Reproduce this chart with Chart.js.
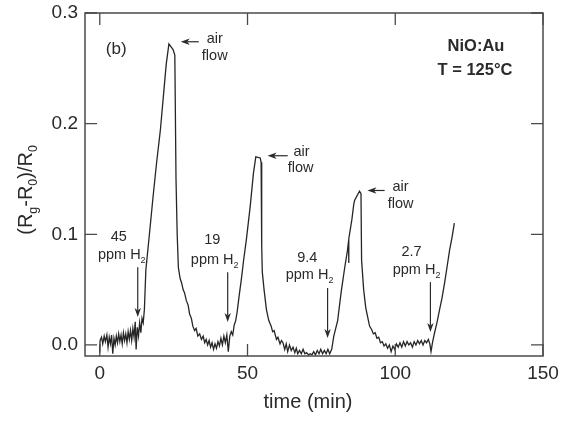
<!DOCTYPE html>
<html>
<head>
<meta charset="utf-8">
<script src="https://cdn.jsdelivr.net/npm/chart.js@4.4.0/dist/chart.umd.min.js"></script>
<style>
html,body{margin:0;padding:0;background:#fff;}
canvas{display:block;}
</style>
</head>
<body>
<canvas id="c" width="561" height="421" style="width:561px;height:421px"></canvas>
<script>
// ---- data ----
const time = [0,0.1,0.6,1.0,1.5,1.9,2.4,2.8,3.2,3.6,4.0,4.4,4.8,5.2,5.6,6.0,6.4,6.8,7.2,7.6,8.0,8.4,8.8,9.2,9.6,10.0,10.4,10.8,11.2,11.6,12.0,12.3,12.7,13.1,13.5,13.9,14.3,14.7,15.1,15.6,16.8,18.0,19.2,20.5,21.5,22.5,23.4,24.8,25.4,25.8,26.2,26.6,27.2,27.7,28.2,28.7,29.3,29.9,30.4,31.0,31.5,32.1,32.6,33.2,33.8,34.4,35.0,35.5,36.0,36.5,37.0,37.5,38.0,38.5,39.0,39.5,40.0,40.5,41.0,41.5,42.0,42.5,43.0,43.5,44.0,44.5,45.0,45.5,46.0,46.5,47.2,47.9,48.7,49.6,50.9,52.0,52.8,54.3,54.6,54.8,55.0,55.6,56.4,57.2,58.0,58.5,59.0,59.8,60.3,61.0,61.5,62.0,62.6,63.1,63.6,64.2,64.8,65.4,66.0,66.5,67.0,67.6,68.2,68.8,69.4,70.0,70.6,71.2,71.8,72.4,73.0,73.6,74.2,74.8,75.4,76.0,76.6,77.2,77.8,78.5,79.2,80.5,81.7,82.9,83.8,84.2,84.25,84.3,85.3,86.0,86.3,87.9,88.4,88.6,89.3,90.0,90.6,91.3,92.0,92.6,93.2,93.8,94.4,95.0,95.6,96.2,96.8,97.4,98.0,98.6,99.2,99.8,100.4,101.0,101.6,102.2,102.8,103.4,104.0,104.6,105.2,105.8,106.4,107.0,107.6,108.2,108.8,109.4,110.0,110.6,111.2,111.7,112.1,112.6,113.3,114.1,115.0,115.8,116.7,117.5,118.4,119.2,120.0];
const response = [-0.007,0.004,0.007,0.001,0.008,0.003,0.009,-0.002,0.007,0.001,0.009,-0.008,0.006,0.000,0.008,0.002,0.010,0.003,0.009,0.001,0.011,0.004,0.010,0.002,0.012,0.005,0.013,0.004,0.015,0.007,0.021,-0.004,0.016,0.008,0.020,0.011,0.024,0.020,0.032,0.068,0.100,0.133,0.164,0.194,0.224,0.254,0.272,0.267,0.262,0.150,0.100,0.070,0.060,0.056,0.050,0.047,0.040,0.036,0.028,0.024,0.017,0.013,0.015,0.008,0.010,0.005,0.008,0.002,0.005,0.000,0.004,-0.002,0.002,-0.004,0.001,-0.003,0.003,-0.001,0.006,0.000,0.008,0.002,0.009,-0.006,0.008,0.012,0.009,0.018,0.022,0.030,0.045,0.059,0.077,0.095,0.125,0.155,0.170,0.169,0.165,0.090,0.066,0.050,0.032,0.022,0.017,0.012,0.013,0.005,0.007,0.001,0.004,0.002,-0.004,0.001,-0.006,0.000,-0.005,-0.002,-0.007,-0.003,-0.008,-0.005,-0.008,-0.004,-0.008,-0.007,-0.009,-0.008,-0.009,-0.006,-0.009,-0.005,-0.008,-0.004,-0.008,-0.005,-0.008,-0.004,-0.008,-0.004,0.008,0.022,0.048,0.070,0.085,0.094,0.074,0.096,0.113,0.128,0.131,0.139,0.137,0.077,0.050,0.034,0.026,0.017,0.014,0.010,0.011,0.006,0.007,0.002,0.003,-0.001,0.001,-0.003,0.000,-0.006,-0.001,-0.004,0.001,-0.002,0.002,-0.002,0.003,-0.001,0.003,0.000,0.002,-0.002,0.003,0.000,0.004,0.001,0.004,0.000,0.004,0.002,0.005,0.001,-0.006,0.002,0.011,0.020,0.032,0.042,0.056,0.070,0.086,0.097,0.110];
const xTicks = [0, 50, 100, 150];
const yTicks = [0.0, 0.1, 0.2, 0.3];
const concLabels = ['45', '19', '9.4', '2.7'];
const xTitle = 'time (min)';
const panelLabel = '(b)';
const sampleLines = ['NiO:Au', 'T = 125°C'];

// ---- annotation anchors (data coordinates) ----
const airArrows = [
  {tail:[33.5,0.274], tip:[27.4,0.274], air:[38.9,0.2766], flow:[38.9,0.2613]},
  {tail:[63.6,0.171], tip:[56.8,0.171], air:[68.3,0.1748], flow:[68.0,0.1595]},
  {tail:[96.4,0.1396], tip:[90.6,0.1396], air:[101.8,0.1423], flow:[101.8,0.127]}
];
const concAnno = [
  {num:[6.43,0.0973], ppm:[7.44,0.0811], ax:12.85, ay0:0.0703, ay1:0.0252},
  {num:[38.05,0.0946], ppm:[38.9,0.0766], ax:43.29, ay0:0.0658, ay1:0.0207},
  {num:[70.2,0.0784], ppm:[71.0,0.0631], ax:77.1, ay0:0.0514, ay1:0.0063},
  {num:[105.5,0.0838], ppm:[107.2,0.0676], ax:111.9, ay0:0.0568, ay1:0.0117}
];

const FONT = "'Liberation Sans', Arial, Helvetica, sans-serif";
const TXT = '#2a2a2a';

function drawRich(ctx, parts, cx, cy, size, weight) {
  let w = 0;
  const subSize = size * 0.62;
  parts.forEach(p => {
    ctx.font = (weight||'normal') + ' ' + (p.sub ? subSize : size) + 'px ' + FONT;
    p.w = ctx.measureText(p.t).width;
    w += p.w;
  });
  let x = cx - w / 2;
  ctx.textAlign = 'left';
  ctx.textBaseline = 'middle';
  parts.forEach(p => {
    ctx.font = (weight||'normal') + ' ' + (p.sub ? subSize : size) + 'px ' + FONT;
    ctx.fillText(p.t, x, p.sub ? cy + size * 0.38 : cy);
    x += p.w;
  });
}

function arrow(ctx, x0, y0, x1, y1) {
  const ang = Math.atan2(y1 - y0, x1 - x0);
  const L = 9, W = 3.2, N = 6.5;
  ctx.beginPath();
  ctx.moveTo(x0, y0);
  ctx.lineTo(x1 - Math.cos(ang) * N, y1 - Math.sin(ang) * N);
  ctx.stroke();
  const bx = x1 - Math.cos(ang) * L, by = y1 - Math.sin(ang) * L;
  const nx = -Math.sin(ang), ny = Math.cos(ang);
  ctx.beginPath();
  ctx.moveTo(x1, y1);
  ctx.lineTo(bx + nx * W, by + ny * W);
  ctx.lineTo(x1 - Math.cos(ang) * N, y1 - Math.sin(ang) * N);
  ctx.lineTo(bx - nx * W, by - ny * W);
  ctx.closePath();
  ctx.fill();
}

const decor = {
  id: 'decor',
  afterDraw(chart) {
    const ctx = chart.ctx;
    const a = chart.chartArea;
    const xs = chart.scales.x, ys = chart.scales.y;
    const X = v => xs.getPixelForValue(v), Y = v => ys.getPixelForValue(v);
    ctx.save();
    ctx.strokeStyle = '#4a4a4a';
    ctx.lineWidth = 1.5;
    ctx.strokeRect(a.left, a.top, a.right - a.left, a.bottom - a.top);
    const TL = 12;
    ctx.lineWidth = 1.3;
    ctx.beginPath();
    xTicks.forEach(v => {
      const px = X(v);
      ctx.moveTo(px, a.bottom); ctx.lineTo(px, a.bottom - TL);
      ctx.moveTo(px, a.top); ctx.lineTo(px, a.top + TL);
    });
    yTicks.forEach(v => {
      const py = Y(v);
      ctx.moveTo(a.left, py); ctx.lineTo(a.left + TL, py);
      ctx.moveTo(a.right, py); ctx.lineTo(a.right - TL, py);
    });
    ctx.stroke();

    ctx.fillStyle = TXT;
    ctx.strokeStyle = TXT;
    drawRich(ctx, [{t: panelLabel}], X(5.58), Y(0.2676), 17);
    drawRich(ctx, [{t: sampleLines[0]}], 476, Y(0.27), 16.5, 'bold');
    drawRich(ctx, [{t: sampleLines[1]}], 475, Y(0.2477), 16.5, 'bold');
    ctx.lineWidth = 1.2;
    airArrows.forEach(o => {
      arrow(ctx, X(o.tail[0]), Y(o.tail[1]), X(o.tip[0]), Y(o.tip[1]));
      drawRich(ctx, [{t: 'air'}], X(o.air[0]), Y(o.air[1]), 14.5);
      drawRich(ctx, [{t: 'flow'}], X(o.flow[0]), Y(o.flow[1]), 14.5);
    });
    concAnno.forEach((o, i) => {
      drawRich(ctx, [{t: concLabels[i]}], X(o.num[0]), Y(o.num[1]), 14.5);
      drawRich(ctx, [{t: 'ppm H'}, {t: '2', sub: true}], X(o.ppm[0]), Y(o.ppm[1]), 14.5);
      arrow(ctx, X(o.ax), Y(o.ay0), X(o.ax), Y(o.ay1));
    });
    drawRich(ctx, [{t: xTitle}], 308, 402, 20);
    ctx.translate(26, 190);
    ctx.rotate(-Math.PI / 2);
    drawRich(ctx, [{t: '(R'}, {t: 'g', sub: true}, {t: '-R'}, {t: '0', sub: true}, {t: ')/R'}, {t: '0', sub: true}], 0, 0, 20);
    ctx.restore();
  }
};

new Chart(document.getElementById('c'), {
  type: 'line',
  data: {
    datasets: [{
      data: time.map((t, i) => ({x: t, y: response[i]})),
      borderColor: '#262626',
      borderWidth: 1.3,
      pointRadius: 0,
      tension: 0,
      fill: false
    }]
  },
  options: {
    responsive: false,
    animation: false,
    events: [],
    layout: {padding: {left: 0, right: 18, top: 13, bottom: 0}},
    plugins: {legend: {display: false}, tooltip: {enabled: false}},
    scales: {
      x: {
        type: 'linear', min: -5, max: 150,
        afterBuildTicks: s => { s.ticks = xTicks.map(v => ({value: v})); },
        afterFit: s => { s.height = 65; s.paddingLeft = 0; s.paddingRight = 0; },
        grid: {display: false, drawTicks: false},
        border: {display: false},
        ticks: {padding: 6, color: TXT, font: {family: FONT, size: 19}, maxRotation: 0, autoSkip: false,
                callback: v => String(v)}
      },
      y: {
        type: 'linear', min: -0.01, max: 0.3,
        afterBuildTicks: s => { s.ticks = yTicks.map(v => ({value: v})); },
        afterFit: s => { s.width = 85; s.paddingTop = 0; s.paddingBottom = 0; },
        grid: {display: false, drawTicks: false},
        border: {display: false},
        ticks: {padding: 7, color: TXT, font: {family: FONT, size: 19}, autoSkip: false,
                callback: v => Number(v).toFixed(1)}
      }
    }
  },
  plugins: [decor]
});
</script>
</body>
</html>
